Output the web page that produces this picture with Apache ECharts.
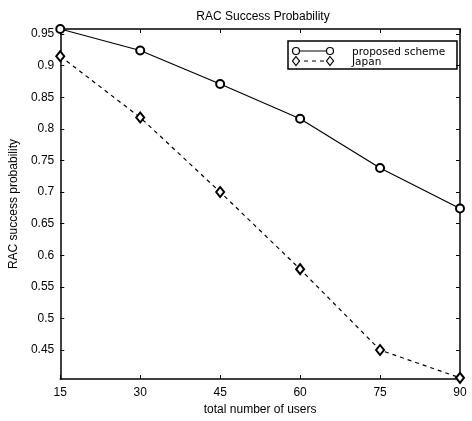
<!DOCTYPE html>
<html>
<head>
<meta charset="utf-8">
<script src="https://cdn.jsdelivr.net/npm/echarts@6/dist/echarts.min.js"></script>
<style>
  html, body { margin: 0; padding: 0; background: #fff; }
  #chart { width: 472px; height: 421px; }
</style>
</head>
<body>
<div id="chart"></div>
<script>
// data
var users = [15, 30, 45, 60, 75, 90];
var proposed = [0.958, 0.924, 0.871, 0.816, 0.738, 0.674];
var japan = [0.915, 0.818, 0.700, 0.578, 0.450, 0.406];
var yTicks = [0.45, 0.5, 0.55, 0.6, 0.65, 0.7, 0.75, 0.8, 0.85, 0.9, 0.95];

var font = 'Liberation Sans, Arial, sans-serif';
var chart = echarts.init(document.getElementById('chart'));

function pairs(ys) {
  return users.map(function (x, i) { return [x, ys[i]]; });
}

var axisLine = { show: true, onZero: false, lineStyle: { color: '#000', width: 1.5 } };
var tick = { show: true, inside: true, length: 4, lineStyle: { color: '#000', width: 1 } };

// legend box drawn as graphic (markers on both ends like matlab)
var lx0 = 296, lx1 = 330, r1 = 51, r2 = 61;
var legendFont = '10.5px DejaVu Sans, sans-serif';
var legend = [
  { type: 'rect', shape: { x: 288, y: 41, width: 169, height: 28 },
    style: { fill: '#fff', stroke: '#000', lineWidth: 1.5 } },
  { type: 'line', shape: { x1: lx0, y1: r1, x2: lx1, y2: r1 }, style: { stroke: '#000', lineWidth: 1.2 } },
  { type: 'circle', shape: { cx: lx0, cy: r1, r: 3.5 }, style: { fill: '#fff', stroke: '#000', lineWidth: 1.2 } },
  { type: 'circle', shape: { cx: lx1, cy: r1, r: 3.5 }, style: { fill: '#fff', stroke: '#000', lineWidth: 1.2 } },
  { type: 'line', shape: { x1: lx0, y1: r2, x2: lx1, y2: r2 }, style: { stroke: '#000', lineWidth: 1.2, lineDash: [4, 4] } },
  { type: 'polygon', shape: { points: [[lx0, r2 - 4.5], [lx0 + 3.5, r2], [lx0, r2 + 4.5], [lx0 - 3.5, r2]] },
    style: { fill: '#fff', stroke: '#000', lineWidth: 1.2 } },
  { type: 'polygon', shape: { points: [[lx1, r2 - 4.5], [lx1 + 3.5, r2], [lx1, r2 + 4.5], [lx1 - 3.5, r2]] },
    style: { fill: '#fff', stroke: '#000', lineWidth: 1.2 } },
  { type: 'text', x: 352, y: r1 + 1, style: { text: 'proposed scheme', font: legendFont, fill: '#000', verticalAlign: 'middle' } },
  { type: 'text', x: 352, y: r2 + 1.5, style: { text: 'Japan', font: legendFont, fill: '#000', verticalAlign: 'middle' } }
];

chart.setOption({
  animation: false,
  backgroundColor: '#fff',
  title: {
    text: 'RAC Success Probability',
    left: 258, top: 6, textAlign: 'center',
    textStyle: { fontFamily: font, fontSize: 12, fontWeight: 'normal', color: '#000' }
  },
  grid: { left: 56, right: 12, top: 29, bottom: 39 },
  xAxis: [{
    type: 'value', min: 15, max: 90, interval: 15, position: 'bottom',
    name: 'total number of users', nameLocation: 'middle', nameGap: 24,
    nameTextStyle: { fontFamily: font, fontSize: 12, color: '#000' },
    axisLine: axisLine, axisTick: tick, splitLine: { show: false },
    axisLabel: { color: '#000', fontFamily: font, fontSize: 12, margin: 8 }
  }, {
    type: 'value', min: 15, max: 90, interval: 15, position: 'top',
    axisLine: axisLine, axisTick: tick, splitLine: { show: false },
    axisLabel: { show: false }
  }],
  yAxis: [{
    type: 'value', min: 0.404, max: 0.958, position: 'left',
    name: 'RAC success probability', nameLocation: 'middle', nameGap: 35,
    nameTextStyle: { fontFamily: font, fontSize: 12, color: '#000' },
    axisLine: axisLine, splitLine: { show: false },
    axisTick: Object.assign({ customValues: yTicks }, tick),
    axisLabel: {
      customValues: yTicks, color: '#000', fontFamily: font, fontSize: 12, margin: 6,
      formatter: function (v) { return String(+v.toFixed(2)); }
    }
  }, {
    type: 'value', min: 0.404, max: 0.958, position: 'right',
    axisLine: axisLine, splitLine: { show: false },
    axisTick: Object.assign({ customValues: yTicks }, tick),
    axisLabel: { show: false }
  }],
  graphic: legend,
  series: [{
    name: 'proposed scheme', type: 'line', data: pairs(proposed),
    symbol: 'emptyCircle', symbolSize: 8, clip: false,
    lineStyle: { color: '#000', width: 1.2 },
    itemStyle: { color: '#000', borderWidth: 1.2 }
  }, {
    name: 'Japan', type: 'line', data: pairs(japan),
    symbol: 'emptyDiamond', symbolSize: [8, 10], clip: false,
    lineStyle: { color: '#000', width: 1.2, type: [4, 4] },
    itemStyle: { color: '#000', borderWidth: 1.2 }
  }]
});
</script>
</body>
</html>
